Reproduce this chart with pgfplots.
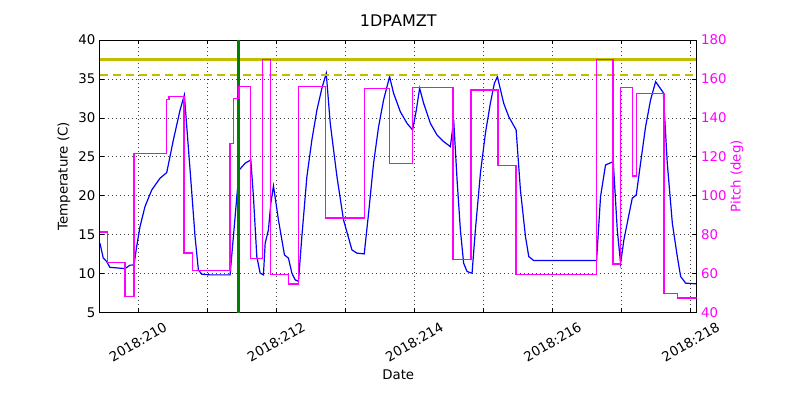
\documentclass[border=0pt]{standalone}
\usepackage{fontspec}
\setmainfont{DejaVu Sans}
\usepackage{pgfplots}
\usepackage{pgfplotstable}
\pgfplotsset{compat=1.18}
\definecolor{ylw}{rgb}{0.75,0.75,0}
\definecolor{grn}{rgb}{0,0.5,0}
\definecolor{mag}{rgb}{1,0,1}
\pgfplotstableread{
x y
209.449 13.9
209.497 12.0
209.546 11.55
209.594 10.8
209.812 10.64
209.884 11.08
209.942 11.1
209.981 13.47
210.029 16.03
210.101 18.6
210.199 20.74
210.319 22.25
210.416 22.97
210.512 27.16
210.609 31.0
210.671 32.94
210.754 23.3
210.826 14.75
210.874 10.47
210.923 9.92
211.043 9.83
211.333 9.83
211.406 17.32
211.464 23.3
211.551 24.17
211.633 24.6
211.671 19.9
211.720 12.18
211.768 10.05
211.816 9.83
211.841 13.9
211.888 15.6
211.923 19.04
211.961 21.26
212.033 16.9
212.120 12.4
212.178 11.98
212.228 10.05
212.275 9.19
212.323 9.0
212.372 14.75
212.445 22.45
212.517 27.16
212.590 31.0
212.662 33.8
212.725 35.72
212.783 29.3
212.880 22.45
212.975 16.9
213.097 13.04
213.170 12.62
213.275 12.53
213.338 17.75
213.410 24.17
213.483 28.87
213.555 32.3
213.642 35.29
213.700 33.16
213.797 30.8
213.894 29.3
213.975 28.45
214.029 31.0
214.077 33.8
214.135 31.87
214.232 29.3
214.329 27.8
214.425 26.95
214.522 26.3
214.570 29.73
214.619 22.03
214.667 15.6
214.714 11.33
214.764 10.26
214.836 10.05
214.884 15.6
214.957 22.9
215.029 28.0
215.101 31.87
215.159 34.44
215.203 35.29
215.294 31.87
215.367 30.15
215.474 28.45
215.536 20.74
215.609 14.75
215.657 12.18
215.729 11.67
216.638 11.67
216.696 19.9
216.768 23.95
216.880 24.38
216.938 15.6
216.986 11.33
217.034 14.33
217.106 17.54
217.155 19.68
217.213 20.1
217.275 24.17
217.348 28.87
217.420 32.3
217.493 34.65
217.604 33.24
217.662 24.17
217.735 16.47
217.807 12.18
217.855 9.62
217.928 8.77
218.085 8.68
}\temptab
\pgfplotstableread{
x y
209.449 81.3
209.555 65.7
209.812 48.2
209.942 121.8
210.415 149.5
210.449 151.0
210.667 70.5
210.787 61.6
211.333 127.0
211.382 150.1
211.464 156.0
211.633 67.7
211.807 170.1
211.923 59.4
212.179 54.7
212.328 156.0
212.710 88.5
213.275 155.2
213.642 116.7
213.976 155.7
214.560 67.1
214.821 154.3
215.210 115.5
215.474 59.4
216.638 170.1
216.874 64.9
216.981 155.7
217.155 110.2
217.213 152.6
217.613 49.6
217.807 47.4
218.085 47.4
}\pitchtab
\begin{document}
\fontsize{13.33bp}{16bp}\selectfont
\begin{tikzpicture}
\path[use as bounding box] (-100bp,-87.5bp) rectangle (700bp,312.5bp);
\pgfplotsset{
  every axis/.append style={
    scale only axis, width=596.5bp, height=272.5bp,
    at={(0,0)}, anchor=south west,
    xmin=209.45, xmax=218.085,
    tick align=inside, major tick length=4.4bp, minor tick length=4.4bp,
    tick style={black, line width=0.6bp},
    axis line style={line width=1bp},
    /pgf/number format/assume math mode=true,
    tick label style={font=\fontsize{13.33bp}{16bp}\selectfont},
    label style={font=\fontsize{13.33bp}{16bp}\selectfont},
  }
}
\begin{axis}[
  ymin=5, ymax=40, ytick={5,10,...,40}, ytick pos=left,
  xtick={210,212,...,218}, minor xtick={211,213,215,217},
  xticklabels={2018:210,2018:212,2018:214,2018:216,2018:218},
  xticklabel style={yshift=-29.5bp, rotate=30, anchor=center},
  grid=both,
  major grid style={black!75, dash pattern=on 1bp off 3bp, line width=0.7bp},
  minor grid style={black!75, dash pattern=on 1bp off 3bp, line width=0.7bp},
  xlabel={Date}, xlabel style={at={(axis description cs:0.5,-0.2294)}, anchor=center},
  ylabel={Temperature (C)}, ylabel style={at={(axis description cs:-0.0604,0.5)}, anchor=center},
  title={1DPAMZT}, title style={at={(axis description cs:0.5,1.0477)}, anchor=center, font=\fontsize{16bp}{19bp}\selectfont},
]
\addplot[blue, line width=1.2bp, no marks] table {\temptab};
\addplot[ylw, line width=2.6bp, no marks] coordinates {(209.45,37.5) (218.085,37.5)};
\addplot[ylw, line width=2.6bp, dash pattern=on 8bp off 5bp, no marks] coordinates {(209.45,35.5) (218.085,35.5)};
\addplot[grn, line width=3bp, no marks] coordinates {(211.454,5) (211.454,40)};
\end{axis}
\begin{axis}[
  ymin=40, ymax=180, ytick={40,60,...,180},
  axis y line*=right, axis x line=none,
  yticklabel style={text=mag},
  ylabel={Pitch (deg)}, ylabel style={text=mag, at={(axis description cs:1.0679,0.5)}, anchor=center},
]
\addplot[mag, line width=1.3bp, const plot, no marks] table {\pitchtab};
\end{axis}
\end{tikzpicture}
\end{document}
